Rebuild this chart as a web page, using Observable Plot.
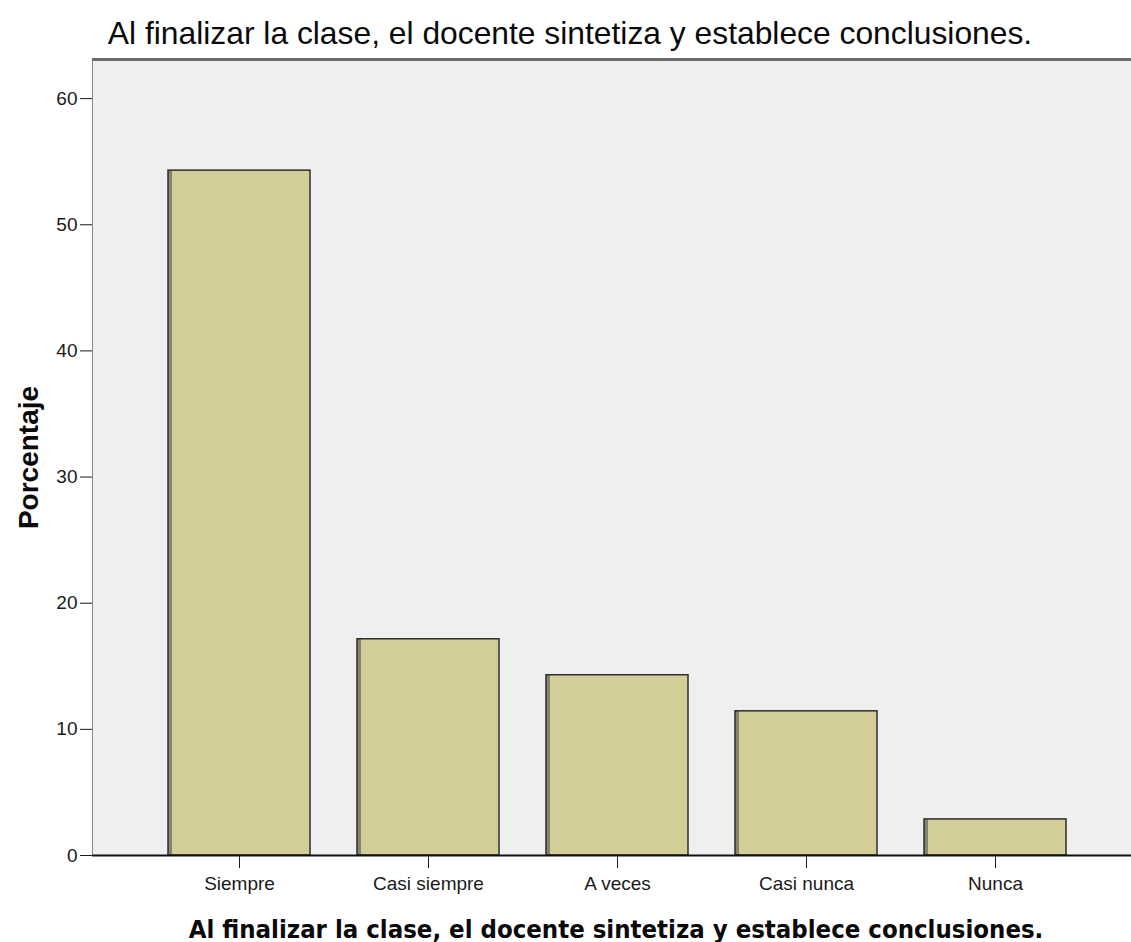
<!DOCTYPE html>
<html>
<head>
<meta charset="utf-8">
<script src="https://cdn.jsdelivr.net/npm/d3@7"></script>
<script src="https://cdn.jsdelivr.net/npm/@observablehq/plot@0.6"></script>
<style>
  html, body { margin: 0; padding: 0; background: #fff; }
  #chart svg { display: block; }
</style>
</head>
<body>
<div id="chart"></div>
<script>
const categories = ["Siempre", "Casi siempre", "A veces", "Casi nunca", "Nunca"];
const percentages = [54.29, 17.14, 14.29, 11.43, 2.86];
const yTicks = [0, 10, 20, 30, 40, 50, 60];
const titleText = "Al finalizar la clase, el docente sintetiza y establece conclusiones.";
const xLabel = "Al finalizar la clase, el docente sintetiza y establece conclusiones.";
const yLabel = "Porcentaje";
const yMax = 63.1;

const data = categories.map((c, i) => ({category: c, value: percentages[i]}));

const chart = Plot.plot({
  width: 1131,
  height: 942,
  marginLeft: 92,
  marginRight: 0,
  marginTop: 59,
  marginBottom: 87,
  style: {fontFamily: "'Liberation Sans', Arial, sans-serif", fontSize: "19px", color: "#1a1a1a", background: "#fff"},
  x: {
    type: "band",
    domain: categories,
    range: [144.4, 1089.4],
    paddingInner: 0.25,
    paddingOuter: 0.125,
    align: 0.5,
    tickSize: 13,
    tickPadding: 8,
    label: null
  },
  y: {
    domain: [0, yMax],
    ticks: yTicks,
    tickSize: 12,
    tickPadding: 3,
    line: true,
    label: null
  },
  marks: [
    Plot.frame({fill: "#efefef", stroke: "none"}),
    Plot.ruleY([yMax], {stroke: "#6a6a6a", strokeWidth: 3}),
    Plot.barY(data, {x: "category", y: "value", fill: "#d3ce97"}),
    Plot.barY(data, {x: "category", y: "value", fill: "#86846f", insetRight: 138}),
    Plot.barY(data, {x: "category", y: "value", fill: "none", stroke: "#2e2e2e", strokeWidth: 1.5}),
    Plot.ruleY([0], {stroke: "#111", strokeWidth: 2}),
    Plot.text([titleText], {frameAnchor: "top", lineAnchor: "bottom", dy: -16, dx: -42, fontSize: 31.8, fill: "#0a0a0a", fontFamily: "'Liberation Sans', Arial, sans-serif"}),
    Plot.text([xLabel], {frameAnchor: "bottom", lineAnchor: "bottom", dy: 82, dx: 4, fontSize: 25.5, fontWeight: "bold", fill: "#0a0a0a", fontFamily: "'DejaVu Sans Condensed', 'DejaVu Sans', Verdana, sans-serif"}),
    Plot.text([yLabel], {frameAnchor: "left", textAnchor: "middle", lineAnchor: "bottom", rotate: -90, dx: -55, fontSize: 28, fontWeight: "bold", fill: "#0a0a0a", fontFamily: "'Liberation Sans', Arial, sans-serif"})
  ]
});
document.getElementById("chart").appendChild(chart);
</script>
</body>
</html>
